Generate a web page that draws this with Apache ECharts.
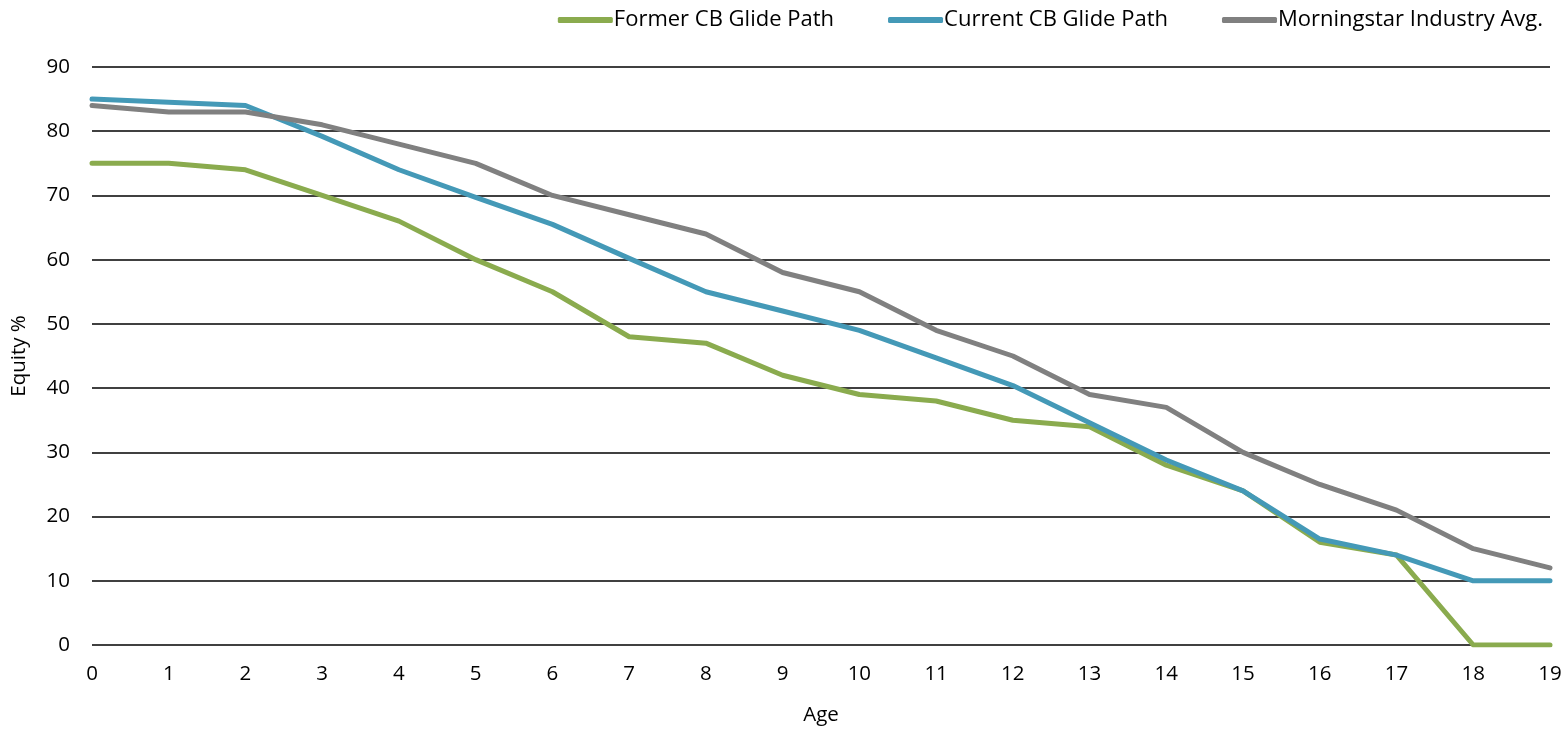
<!DOCTYPE html>
<html>
<head>
<meta charset="utf-8">
<script src="https://cdn.jsdelivr.net/npm/echarts@6/dist/echarts.min.js"></script>
<style>html,body{margin:0;padding:0;background:#fff;}#c{width:1568px;height:731px;}</style>
</head>
<body>
<div id="c"></div>
<script>
const ages = ['0','1','2','3','4','5','6','7','8','9','10','11','12','13','14','15','16','17','18','19'];
const formerCB = [75,75,74,70,66,60,55,48,47,42,39,38,35,34,28,24,16,14,0,0];
const currentCB = [85,84.5,84,79.2,74,69.7,65.5,60.2,55,52,49,44.7,40.4,34.6,28.8,24,16.5,14,10,10];
const morningstar = [84,83,83,81,78,75,70,67,64,58,55,49,45,39,37,30,25,21,15,12];
const seriesNames = ['Former CB Glide Path','Current CB Glide Path','Morningstar Industry Avg.'];
const colors = ['#8aab4e','#4499b7','#808080'];

const font = '"Open Sans", Lato, sans-serif';
const fs = 20.5;
const chart = echarts.init(document.getElementById('c'));
const mk = (name, data, color) => ({
  name, type: 'line', data, symbol: 'none', showSymbol: false,
  lineStyle: { color, width: 5, cap: 'round', join: 'round' },
  itemStyle: { color },
  emphasis: { disabled: true }
});
chart.setOption({
  animation: false,
  textStyle: { fontFamily: font, color: '#000' },
  legend: {
    top: 4, right: 20,
    icon: 'roundRect', itemWidth: 55, itemHeight: 6, itemGap: 54,
    textStyle: { fontFamily: font, fontSize: 22, color: '#000', padding: [0,0,0,-4] },
    data: seriesNames
  },
  grid: { left: 92, right: 18, top: 67, bottom: 83, containLabel: false },
  xAxis: {
    type: 'category', data: ages, boundaryGap: false,
    name: 'Age', nameLocation: 'middle', nameGap: 60,
    nameTextStyle: { fontFamily: font, fontSize: fs, color: '#000' },
    axisLine: { show: false }, axisTick: { show: false },
    axisLabel: { fontFamily: font, fontSize: fs, color: '#000', margin: 19 }
  },
  yAxis: {
    type: 'value', min: 0, max: 90, interval: 10,
    name: 'Equity %', nameLocation: 'middle', nameGap: 62, nameRotate: 90,
    nameTextStyle: { fontFamily: font, fontSize: fs, color: '#000' },
    axisLine: { show: false }, axisTick: { show: false },
    axisLabel: { fontFamily: font, fontSize: fs, color: '#000', margin: 22 },
    splitLine: { lineStyle: { color: '#000', width: 1.5 } }
  },
  series: [
    mk(seriesNames[0], formerCB, colors[0]),
    mk(seriesNames[1], currentCB, colors[1]),
    mk(seriesNames[2], morningstar, colors[2])
  ]
});
</script>
</body>
</html>
